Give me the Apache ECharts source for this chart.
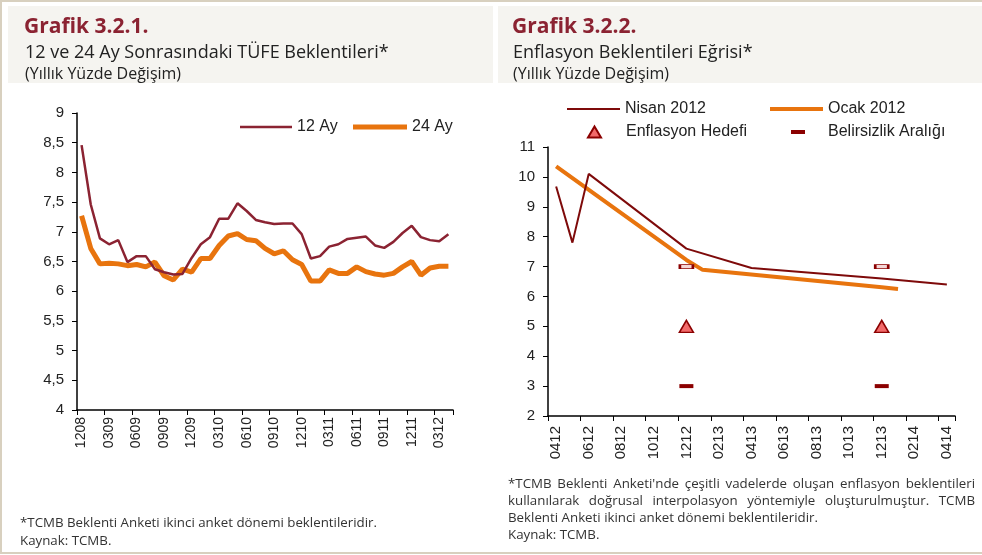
<!DOCTYPE html>
<html><head><meta charset="utf-8">
<script src="https://cdn.jsdelivr.net/npm/echarts@6/dist/echarts.min.js"></script>
<style>html,body{margin:0;padding:0;background:#fff}#c{width:982px;height:555px}</style>
</head><body><div id="c"></div>
<script>
// ---------- Grafik 3.2.1 data ----------
const leftCategories = ['1208',
  '0109','0209','0309','0409','0509','0609','0709','0809','0909','1009','1109','1209',
  '0110','0210','0310','0410','0510','0610','0710','0810','0910','1010','1110','1210',
  '0111','0211','0311','0411','0511','0611','0711','0811','0911','1011','1111','1211',
  '0112','0212','0312','0412'];
const expectation12m = [8.46,
  7.46,6.89,6.79,6.86,6.49,6.59,6.59,6.37,6.32,6.28,6.29,6.56,
  6.79,6.91,7.22,7.22,7.48,7.35,7.20,7.16,7.13,7.14,7.14,6.96,
  6.55,6.59,6.75,6.79,6.88,6.90,6.92,6.77,6.73,6.83,6.98,7.10,
  6.91,6.86,6.84,6.96];
const expectation24m = [7.27,
  6.72,6.46,6.47,6.46,6.43,6.45,6.41,6.49,6.26,6.19,6.37,6.32,
  6.55,6.55,6.77,6.93,6.97,6.87,6.85,6.72,6.63,6.68,6.53,6.45,
  6.17,6.17,6.36,6.30,6.30,6.41,6.33,6.29,6.27,6.30,6.41,6.50,
  6.27,6.39,6.42,6.42];
const leftSeriesNames = ['12 Ay','24 Ay'];

// ---------- Grafik 3.2.2 data ----------
const rightCategories = ['0412','0512','0612','0712','0812','0912','1012','1112','1212',
  '0113','0213','0313','0413','0513','0613','0713','0813','0913','1013','1113','1213',
  '0114','0214','0314','0414'];
const nisan2012 = [['0412',9.68],['0512',7.80],['0612',10.10],['1212',7.60],['0413',6.95],['1213',6.60],['0414',6.40]];
const ocak2012 = [['0412',10.35],['1212',7.22],['0113',6.89],['1213',6.31],['0114',6.25]];
const inflationTarget = [['1212',5],['1213',5]];
const uncertaintyLow = [['1212',3],['1213',3]];
const uncertaintyHigh = [['1212',7],['1213',7]];
const rightSeriesNames = ['Nisan 2012','Ocak 2012','Enflasyon Hedefi','Belirsizlik Aralığı'];

// ---------- texts ----------
const leftTitle = 'Grafik 3.2.1.';
const leftSubtitle = '12 ve 24 Ay Sonrasındaki TÜFE Beklentileri*';
const rightTitle = 'Grafik 3.2.2.';
const rightSubtitle = 'Enflasyon Beklentileri Eğrisi*';
const unitText = '(Yıllık Yüzde Değişim)';
const leftNotes = ['*TCMB Beklenti Anketi ikinci anket dönemi beklentileridir.','Kaynak: TCMB.'];
const rightNotes = ["*TCMB Beklenti Anketi'nde çeşitli vadelerde oluşan enflasyon beklentileri",
  'kullanılarak doğrusal interpolasyon yöntemiyle oluşturulmuştur. TCMB',
  'Beklenti Anketi ikinci anket dönemi beklentileridir.','Kaynak: TCMB.'];

const MAROON = '#8B2332', ORANGE = '#E8740E', DARKRED = '#7E0A0A';
const AX = 'Liberation Sans, Arial, sans-serif';
const HF = '"Open Sans", Lato, sans-serif';

const mctx = document.createElement('canvas').getContext('2d');
function textLine(text, x0, x1, y, size, justify){
  mctx.font = size + 'px ' + HF;
  const words = text.split(' ');
  const widths = words.map(w => mctx.measureText(w).width);
  const total = widths.reduce((a,b)=>a+b,0);
  const gap = (justify && words.length>1) ? (x1-x0-total)/(words.length-1) : mctx.measureText(' ').width;
  let x = x0; const out = [];
  words.forEach((w,i)=>{
    out.push({type:'text', x:x, y:y, style:{text:w, font: size+'px '+HF, fill:'#333', textVerticalAlign:'middle'}});
    x += widths[i] + gap;
  });
  return out;
}

const graphic = [
  {type:'rect', shape:{x:1,y:1,width:995,height:552}, style:{fill:'none', stroke:'#d8d0bf', lineWidth:2}, z:-10},
  {type:'rect', shape:{x:8,y:6,width:485,height:77}, style:{fill:'#F5F4F0'}, z:-9},
  {type:'rect', shape:{x:498,y:6,width:490,height:77}, style:{fill:'#F5F4F0'}, z:-9},
  {type:'text', x:24, y:27, style:{text:leftTitle, font:'bold 21px '+HF, fill:MAROON, textVerticalAlign:'middle'}},
  {type:'text', x:25, y:53, style:{text:leftSubtitle, font:'18px '+HF, fill:'#222', textVerticalAlign:'middle'}},
  {type:'text', x:25, y:74, style:{text:unitText, font:'16px '+HF, fill:'#222', textVerticalAlign:'middle'}},
  {type:'text', x:512, y:27, style:{text:rightTitle, font:'bold 21px '+HF, fill:MAROON, textVerticalAlign:'middle'}},
  {type:'text', x:513, y:53, style:{text:rightSubtitle, font:'18px '+HF, fill:'#222', textVerticalAlign:'middle'}},
  {type:'text', x:513, y:74, style:{text:unitText, font:'16px '+HF, fill:'#222', textVerticalAlign:'middle'}}
];
graphic.push(...textLine(leftNotes[0], 20, 381, 523, 13.3, false));
graphic.push(...textLine(leftNotes[1], 20, 381, 541, 13.3, false));
graphic.push(...textLine(rightNotes[0], 508, 975, 484, 13.3, true));
graphic.push(...textLine(rightNotes[1], 508, 975, 501, 13.3, true));
graphic.push(...textLine(rightNotes[2], 508, 975, 518, 13.3, false));
graphic.push(...textLine(rightNotes[3], 508, 975, 535, 13.3, false));

const axisCommon = {
  axisLine:{show:true, lineStyle:{color:'#000', width:1.5}},
  axisTick:{show:true, length:5, lineStyle:{color:'#000', width:1}},
  splitLine:{show:false}
};
const legendText = {fontFamily:AX, fontSize:16, color:'#222'};
function lg(name, left, top, w, h, icon, extra){
  return Object.assign({data:[name], left:left, top:top, itemWidth:w, itemHeight:h, icon:icon,
    textStyle:Object.assign({}, legendText), selectedMode:false}, extra || {});
}

const chart = echarts.init(document.getElementById('c'), null, {renderer:'canvas'});
chart.setOption({
  animation:false,
  backgroundColor:'#fff',
  graphic: graphic,
  grid:[
    {left:77, top:113, width:376, height:297},
    {left:548, top:147, width:407, height:269}
  ],
  xAxis:[
    Object.assign({}, axisCommon, {gridIndex:0, type:'category', data:leftCategories, boundaryGap:true,
      axisTick:{show:true, interval:2, length:5, lineStyle:{color:'#000'}},
      axisLabel:{interval:2, rotate:90, fontFamily:AX, fontSize:14, color:'#222', margin:7}}),
    Object.assign({}, axisCommon, {gridIndex:1, type:'category', data:rightCategories, boundaryGap:true,
      axisTick:{show:true, interval:1, length:5, lineStyle:{color:'#000'}},
      axisLabel:{interval:1, rotate:90, fontFamily:AX, fontSize:15, color:'#222', margin:10}})
  ],
  yAxis:[
    Object.assign({}, axisCommon, {gridIndex:0, type:'value', min:4, max:9, interval:0.5,
      axisLabel:{fontFamily:AX, fontSize:15, color:'#222', margin:13, formatter:v=>String(v).replace('.',',')}}),
    Object.assign({}, axisCommon, {gridIndex:1, type:'value', min:2, max:11, interval:1,
      axisLabel:{fontFamily:AX, fontSize:15, color:'#222', margin:13}})
  ],
  legend:[
    lg(leftSeriesNames[0], 235, 114, 52, 2.5, 'rect'),
    lg(leftSeriesNames[1], 348, 114, 54, 5, 'rect'),
    lg(rightSeriesNames[0], 562, 96, 53, 2, 'rect'),
    lg(rightSeriesNames[1], 765, 96, 53, 4, 'rect'),
    lg(rightSeriesNames[2], 582, 119, 13, 11, 'triangle', {textStyle:Object.assign({}, legendText, {padding:[0,0,0,20]})}),
    lg(rightSeriesNames[3], 786, 119, 14, 4, 'rect', {textStyle:Object.assign({}, legendText, {padding:[0,0,0,18]})})
  ],
  series:[
    {name:leftSeriesNames[0], type:'line', xAxisIndex:0, yAxisIndex:0, data:expectation12m, symbol:'none',
      lineStyle:{color:MAROON, width:2.5}, itemStyle:{color:MAROON}, z:3},
    {name:leftSeriesNames[1], type:'line', xAxisIndex:0, yAxisIndex:0, data:expectation24m, symbol:'none',
      lineStyle:{color:ORANGE, width:5}, itemStyle:{color:ORANGE}, z:2},
    {name:rightSeriesNames[0], type:'line', xAxisIndex:1, yAxisIndex:1, data:nisan2012, symbol:'none',
      lineStyle:{color:DARKRED, width:2}, itemStyle:{color:DARKRED}, z:3},
    {name:rightSeriesNames[1], type:'line', xAxisIndex:1, yAxisIndex:1, data:ocak2012, symbol:'none',
      lineStyle:{color:ORANGE, width:4}, itemStyle:{color:ORANGE}, z:2},
    {name:rightSeriesNames[2], type:'scatter', xAxisIndex:1, yAxisIndex:1, data:inflationTarget, symbol:'triangle', symbolSize:[14,12],
      itemStyle:{color:'#F26A6A', borderColor:'#8B0000', borderWidth:1.5, opacity:1}, z:4},
    {name:rightSeriesNames[3], type:'scatter', xAxisIndex:1, yAxisIndex:1, data:uncertaintyLow, symbol:'rect', symbolSize:[14,4],
      itemStyle:{color:'#8B0000', opacity:1}, z:4},
    {name:'upper', type:'scatter', xAxisIndex:1, yAxisIndex:1, data:uncertaintyHigh, symbol:'rect', symbolSize:[13,4],
      itemStyle:{color:'#F3D6D6', borderColor:'#8B0000', borderWidth:1.5, opacity:1}, z:4}
  ]
});
</script></body></html>
